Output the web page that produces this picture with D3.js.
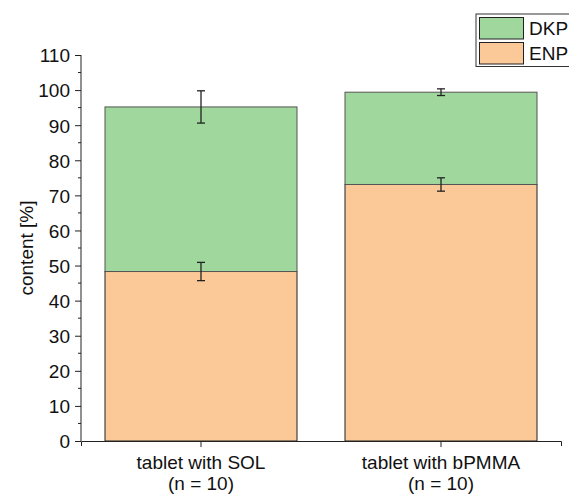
<!DOCTYPE html>
<html>
<head>
<meta charset="utf-8">
<script src="https://cdn.jsdelivr.net/npm/d3@7"></script>
<style>
  body { margin: 0; background: #fff; }
  svg text { font-family: "Liberation Sans", Arial, sans-serif; fill: #111; }
</style>
</head>
<body>
<div id="chart"></div>
<script>
// Data
const categories = ['tablet with SOL', 'tablet with bPMMA'];
const sampleLabels = ['(n = 10)', '(n = 10)'];
const enpValues = [48.3, 73.1];
const enpErrors = [2.6, 1.9];
const dkpValues = [46.9, 26.3];     // stacked on top of ENP
const totalErrors = [4.6, 0.95];
const yTicks = [0, 10, 20, 30, 40, 50, 60, 70, 80, 90, 100, 110];

const W = 569, H = 497;
const margin = { top: 55, right: 8, bottom: 56, left: 81 };
const width = W - margin.left - margin.right;
const height = 441 - margin.top;
const fontSize = '19px';

const svg = d3.select('#chart').append('svg')
    .attr('width', W)
    .attr('height', H);

const g = svg.append('g')
    .attr('transform', `translate(${margin.left},${margin.top})`);

// Scales
const x = d3.scaleBand()
    .domain(categories)
    .range([0, width])
    .padding(0);

const y = d3.scaleLinear()
    .domain([0, 110])
    .range([height, 0]);

const barW = x.bandwidth() * 0.8;
const barX = d => x(d) + (x.bandwidth() - barW) / 2;

const colors = { ENP: '#fbc898', DKP: '#a0d79d' };

// ENP bars
g.selectAll('.enp')
    .data(categories)
    .enter()
    .append('rect')
    .attr('class', 'enp')
    .attr('x', d => barX(d))
    .attr('y', (d, i) => y(enpValues[i]))
    .attr('width', barW)
    .attr('height', (d, i) => height - y(enpValues[i]))
    .attr('fill', colors.ENP)
    .attr('stroke', '#222')
    .attr('stroke-width', 1);

// DKP bars (stacked)
g.selectAll('.dkp')
    .data(categories)
    .enter()
    .append('rect')
    .attr('class', 'dkp')
    .attr('x', d => barX(d))
    .attr('y', (d, i) => y(enpValues[i] + dkpValues[i]))
    .attr('width', barW)
    .attr('height', (d, i) => y(enpValues[i]) - y(enpValues[i] + dkpValues[i]))
    .attr('fill', colors.DKP)
    .attr('stroke', '#555')
    .attr('stroke-width', 1);

// Error bars
function errorBars(tops, errs) {
    categories.forEach((c, i) => {
        const cx = x(c) + x.bandwidth() / 2;
        const eg = g.append('g')
            .attr('stroke', '#222')
            .attr('stroke-width', 1.3);
        eg.append('line')
            .attr('x1', cx).attr('x2', cx)
            .attr('y1', y(tops[i] + errs[i])).attr('y2', y(tops[i] - errs[i]));
        [tops[i] + errs[i], tops[i] - errs[i]].forEach(v => {
            eg.append('line')
                .attr('x1', cx - 4).attr('x2', cx + 4)
                .attr('y1', y(v)).attr('y2', y(v));
        });
    });
}
errorBars(enpValues, enpErrors);
errorBars(enpValues.map((v, i) => v + dkpValues[i]), totalErrors);

// Y axis with minor ticks
const yAxis = g.append('g')
    .call(d3.axisLeft(y).tickValues(yTicks).tickSize(6).tickPadding(5));
yAxis.selectAll('text').style('font-size', fontSize).attr('dy', '0.36em');
yAxis.select('.domain').attr('stroke', '#222').attr('d', `M0,${y(110)}V${height}`);
yAxis.selectAll('.tick line').attr('stroke', '#222');

g.append('g')
    .selectAll('line')
    .data(yTicks.slice(0, -1).map(v => v + 5))
    .enter()
    .append('line')
    .attr('x1', -3).attr('x2', 0)
    .attr('y1', d => y(d)).attr('y2', d => y(d))
    .attr('stroke', '#222');

// X axis
const xAxis = g.append('g')
    .attr('transform', `translate(0,${height})`)
    .call(d3.axisBottom(x).tickSize(6).tickSizeOuter(5).tickFormat(''));
xAxis.select('.domain').attr('stroke', '#222');
xAxis.selectAll('.tick line').attr('stroke', '#222');

categories.forEach((c, i) => {
    const cx = x(c) + x.bandwidth() / 2;
    const t = g.append('text')
        .attr('x', cx)
        .attr('y', 469 - margin.top)
        .attr('text-anchor', 'middle')
        .style('font-size', fontSize);
    t.append('tspan').attr('x', cx).text(c);
    t.append('tspan').attr('x', cx).attr('dy', 21).text(sampleLabels[i]);
});

// Y axis label
svg.append('text')
    .attr('transform', `translate(33,${margin.top + height / 2}) rotate(-90)`)
    .attr('text-anchor', 'middle')
    .style('font-size', fontSize)
    .text('content [%]');

// Legend
const legendItems = ['DKP', 'ENP'];
const legend = svg.append('g').attr('transform', 'translate(476,14)');
legend.append('rect')
    .attr('width', 100).attr('height', 52.5)
    .attr('fill', '#fff')
    .attr('stroke', '#333')
    .attr('stroke-width', 1);
legendItems.forEach((k, i) => {
    legend.append('rect')
        .attr('x', 3.5).attr('y', 3.5 + i * 25)
        .attr('width', 44).attr('height', 21.5)
        .attr('fill', colors[k])
        .attr('stroke', '#222');
    legend.append('text')
        .attr('x', 53).attr('y', 21 + i * 25)
        .style('font-size', fontSize)
        .text(k);
});
</script>
</body>
</html>
